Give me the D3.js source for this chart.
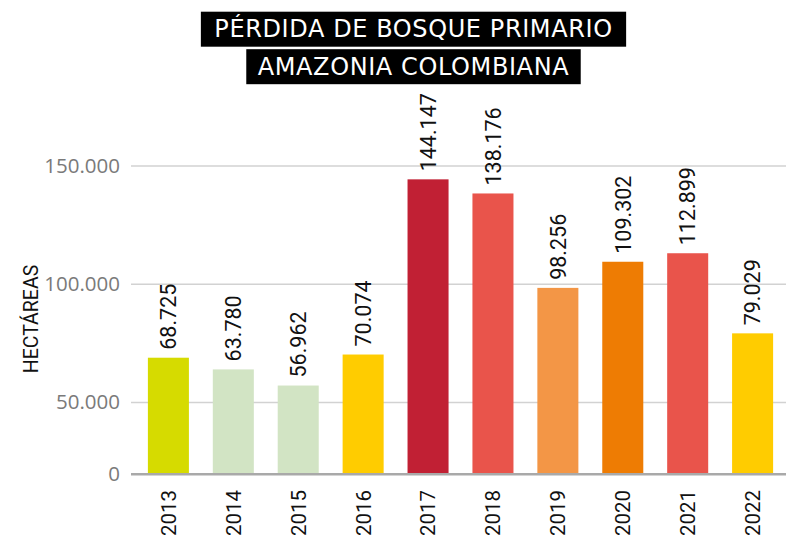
<!DOCTYPE html>
<html>
<head>
<meta charset="utf-8">
<script src="https://cdn.jsdelivr.net/npm/d3@7"></script>
<style>
  body { margin: 0; background: #fff; }
  svg { display: block; }
</style>
</head>
<body>
<svg id="chart"></svg>
<script>
const years = ["2013", "2014", "2015", "2016", "2017", "2018", "2019", "2020", "2021", "2022"];
const hectares = [68725, 63780, 56962, 70074, 144147, 138176, 98256, 109302, 112899, 79029];
const barColors = ["#d6db00", "#d2e4c4", "#d2e4c4", "#ffcc00", "#c12034", "#e9544b", "#f39646", "#ee7c03", "#e9544b", "#ffcc00"];
const yTicks = [0, 50000, 100000, 150000];
const titleLines = ["PÉRDIDA DE BOSQUE PRIMARIO", "AMAZONIA COLOMBIANA"];
const yLabel = "HECTÁREAS";

const data = years.map((year, i) => ({ year, value: hectares[i], color: barColors[i] }));

width = 786;
height = 536;

const locale = d3.formatLocale({ decimal: ",", thousands: ".", grouping: [3], currency: ["$", ""] });
const fmt = locale.format(",d");

const svg = d3.select("#chart").attr("width", width).attr("height", height);

x = d3.scaleBand()
  .domain(years)
  .range([124, 797])
  .paddingInner(0.368)
  .paddingOuter(0.368);

// the original axis is squeezed below 50.000
y = d3.scaleLinear()
  .domain([0, 50000, 150000])
  .range([474, 402, 165.5]);

// grid + y labels
svg.append("g")
  .attr("transform", "translate(131,0)")
  .call(d3.axisLeft(y).tickValues(yTicks).tickSize(-(width - 131)).tickPadding(11).tickFormat(fmt))
  .call(g => g.select(".domain").remove())
  .call(g => g.selectAll(".tick line")
    .attr("stroke", d => d === 0 ? "#a9a9a9" : "#d2d2d2")
    .attr("stroke-width", d => d === 0 ? 2 : 1.5))
  .call(g => g.selectAll(".tick text")
    .attr("fill", "#7a7a7a")
    .attr("font-family", "'Open Sans', 'Noto Sans', sans-serif")
    .attr("font-size", 20.5)
    .attr("dy", "0.34em"));

// bars
svg.append("g")
  .selectAll("rect")
  .data(data)
  .join("rect")
  .attr("x", d => x(d.year))
  .attr("y", d => y(d.value))
  .attr("width", x.bandwidth())
  .attr("height", d => y(0) - y(d.value))
  .attr("fill", d => d.color);

// redraw baseline on top of bars
svg.append("line")
  .attr("x1", 131).attr("x2", width)
  .attr("y1", y(0)).attr("y2", y(0))
  .attr("stroke", "#a9a9a9")
  .attr("stroke-width", 2);

// value labels
svg.append("g")
  .selectAll("text")
  .data(data)
  .join("text")
  .attr("transform", d => `translate(${x(d.year) + x.bandwidth() / 2},${y(d.value) - 8}) rotate(-90)`)
  .attr("dy", "0.36em")
  .attr("text-anchor", "start")
  .attr("font-family", "Roboto, sans-serif")
  .attr("font-size", 21.5)
  .attr("fill", "#111")
  .text(d => fmt(d.value));

// year labels
svg.append("g")
  .attr("transform", `translate(0,${y(0)})`)
  .call(d3.axisBottom(x).tickSize(0))
  .call(g => g.select(".domain").remove())
  .call(g => g.selectAll(".tick text")
    .attr("transform", "rotate(-90)")
    .attr("x", -16)
    .attr("y", 0)
    .attr("dy", "0.36em")
    .attr("text-anchor", "end")
    .attr("fill", "#111")
    .attr("font-family", "Roboto, sans-serif")
    .attr("font-size", 20.5));

// y axis title
svg.append("text")
  .attr("transform", "translate(31,319) rotate(-90)")
  .attr("dy", "0.36em")
  .attr("text-anchor", "middle")
  .attr("font-family", "Roboto, sans-serif")
  .attr("font-size", 19.5)
  .attr("fill", "#111")
  .text(yLabel);

// title boxes
const titleG = svg.append("g");
titleLines.forEach((line, i) => {
  const cx = 413.5, top = 11.7 + i * 37.5, boxH = 35;
  const rect = titleG.append("rect")
    .attr("y", top)
    .attr("height", boxH)
    .attr("fill", "#000");
  const t = titleG.append("text")
    .attr("x", cx)
    .attr("y", top + 25.6)
    .attr("text-anchor", "middle")
    .attr("font-family", "'DejaVu Sans', sans-serif")
    .attr("font-size", 24)
    .attr("letter-spacing", 0.6)
    .attr("fill", "#fff")
    .text(line);
  const w = t.node().getComputedTextLength();
  const pad = i === 0 ? 13.5 : 11.5;
  rect.attr("x", cx - w / 2 - pad).attr("width", w + pad * 2);
});
</script>
</body>
</html>
